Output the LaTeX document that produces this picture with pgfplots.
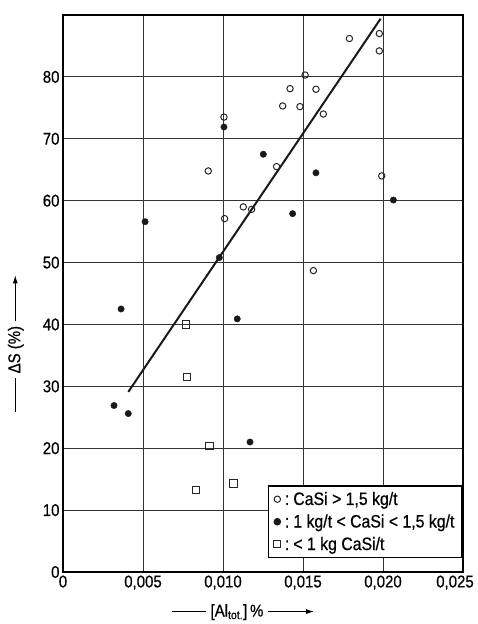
\documentclass[border=0pt]{standalone}
\usepackage{fontspec}
\setmainfont{Liberation Sans}[FakeStretch=0.88, FakeBold=0.6]
\usepackage{pgfplots}
\pgfplotsset{compat=1.18}
\usetikzlibrary{arrows.meta}

\newcommand{\dash}{\tikz[baseline=-0.55ex]\draw[line width=1bp] (0,0)--(34bp,0);}
\newcommand{\arrowr}{\tikz[baseline=-0.55ex]\draw[line width=1bp,-{Latex[length=8bp,width=5bp]}] (0,0)--(46bp,0);}
\newcommand{\lbl}{\fontsize{17bp}{20bp}\selectfont}
\newcommand{\lgd}{\fontsize{18bp}{21bp}\selectfont}

\begin{document}
\begin{tikzpicture}
\useasboundingbox (-63bp,-52bp) rectangle (415bp,572bp); % frame of the scan
\begin{axis}[
    scale only axis,
    width=400bp, height=557bp,
    xmin=0, xmax=0.025, ymin=0, ymax=90,
    xtick={0,0.005,0.010,0.015,0.020,0.025},
    xticklabels={0,{0,005},{0,010},{0,015},{0,020},{\hspace*{-16bp}0,025}},
    scaled x ticks=false,
    ytick={0,10,...,80},
    /pgf/number format/assume math mode=true,
    ticklabel style={font=\lbl},
    major tick length=0pt,
    grid=major,
    major grid style={black!80, line width=1bp},
    axis line style={line width=1.2bp},
    xlabel={\dash\ [Al\textsubscript{tot.}]\,\%\ \arrowr},
    xlabel style={font=\lbl, at={(axis description cs:0.45,-0.072)}, anchor=center},
    ylabel={\dash\ ΔS (\%)\ \arrowr},
    ylabel style={font=\lbl, at={(axis description cs:-0.118,0.41)}, anchor=center},
    legend style={at={(axis description cs:0.9975,0.025)}, anchor=south east,
        font=\lgd, draw=black, line width=1.1bp, fill=white,
        inner xsep=5bp, inner ysep=4bp, row sep=4bp},
    legend cell align=left,
    legend image code/.code={\draw[mark repeat=2,mark phase=2,#1] plot coordinates {(0bp,0bp) (4bp,0bp) (8bp,0bp)};},
]
% regression line
\addplot[black!90, line width=2bp, no marks, forget plot] coordinates {(0.00408,29.1) (0.01985,89.4)};

% CaSi > 1,5 kg/t
\addplot[only marks, mark=o, mark size=3.2bp, mark options={line width=1bp, black!85}] coordinates {
(0.01419,78.1) (0.01373,75.3) (0.01481,75.2) (0.01006,73.5) (0.01335,65.5)
(0.00908,64.8) (0.01127,59.0) (0.01179,58.6) (0.01010,57.1) (0.01790,86.2)
(0.01977,87.0) (0.01977,84.2) (0.01513,80.3) (0.01581,78.0) (0.01627,74.0)
(0.01992,64.0) (0.01565,48.7)
};
% 1 kg/t < CaSi < 1,5 kg/t
\addplot[only marks, mark=*, mark size=3.2bp, mark options={black!90}] coordinates {
(0.01006,71.9) (0.01252,67.5) (0.01435,57.9) (0.00513,56.6) (0.00977,50.8)
(0.01581,64.5) (0.02065,60.1) (0.00363,42.5) (0.01089,40.9) (0.00319,26.9)
(0.00408,25.6) (0.01169,21.0)
};
% < 1 kg CaSi/t
\addplot[only marks, mark=square, mark size=3.6bp, mark options={line width=1bp, black!85}] coordinates {
(0.00769,40.0) (0.00777,31.5) (0.00915,20.4) (0.00831,13.2) (0.01065,14.3)
};
\legend{{\hspace{2bp}:\hspace{4bp}CaSi > 1,5 kg/t},{\hspace{2bp}:\hspace{4bp}1 kg/t < CaSi < 1,5 kg/t},{\hspace{2bp}:\hspace{4bp}< 1 kg CaSi/t}}
\end{axis}
\end{tikzpicture}
\end{document}
